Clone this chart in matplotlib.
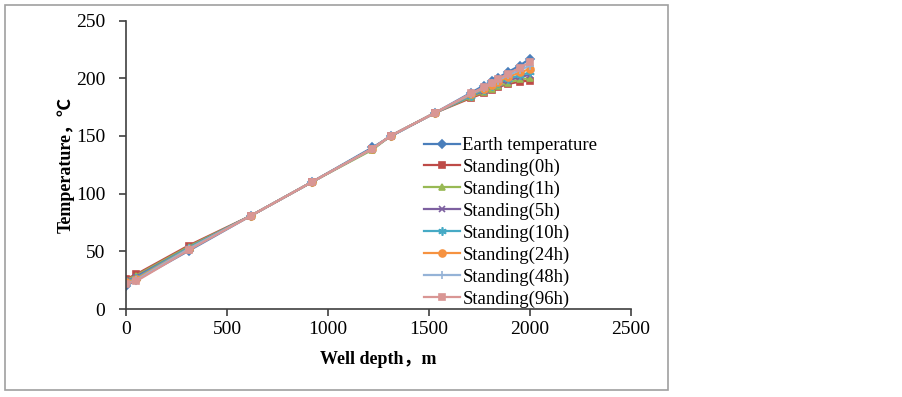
import matplotlib
matplotlib.use("Agg")
import matplotlib.pyplot as plt
from matplotlib.patches import Rectangle

depth = [0, 50, 310, 620, 920, 1220, 1310, 1530, 1710, 1770, 1810, 1840, 1890, 1950, 2000]

earth = [20, 25, 50.4, 81, 110, 140, 149.5, 170, 187.6, 193.5, 197.4, 200.3, 205.2, 211, 217]
h0 = [26, 30, 55, 81, 110, 139, 150, 170, 183, 187, 190, 192, 195, 197, 198]
h1 = [25, 29, 54, 81, 110, 138, 150, 170, 184, 188, 191, 193, 196, 199, 200]
h5 = [24, 28, 53, 81, 110, 139, 150, 170, 185, 189, 193, 195, 198, 201, 203]
h10 = [24, 27, 53, 81, 110, 139, 150, 170, 185, 190, 193.5, 196, 199.5, 202.5, 205]
h24 = [23, 26, 52, 81, 110, 139, 150, 170, 186, 191, 194.5, 197, 201, 205, 208]
h48 = [22, 25, 52, 81, 110, 139, 150, 170, 186.5, 191.5, 195.5, 198, 202.5, 207, 211]
h96 = [22, 24, 51, 81, 110, 139, 150, 170, 187, 192, 196, 199, 204, 209, 214]

labels = ["Earth temperature", "Standing(0h)", "Standing(1h)", "Standing(5h)",
          "Standing(10h)", "Standing(24h)", "Standing(48h)", "Standing(96h)"]
series = [earth, h0, h1, h5, h10, h24, h48, h96]
colors = ["#4A7EBB", "#BE4B48", "#98B954", "#7D60A0", "#46AAC5", "#F69240", "#95B3D7", "#D99694"]
markers = ["D", "s", "^", "x", (6, 2, 0), "o", "+", "s"]
msizes = [4, 5, 5, 5, 6, 5, 6, 5]

xticks = [0, 500, 1000, 1500, 2000, 2500]
yticks = [0, 50, 100, 150, 200, 250]

serif = ["Liberation Serif", "Noto Sans CJK SC"]

fig = plt.figure(figsize=(9.03, 3.97), dpi=100)
fig.patches.append(Rectangle((5/903, 1-390/397), 663/903, 385/397, transform=fig.transFigure,
                             fill=False, edgecolor="#A0A0A0", linewidth=1.2))
ax = fig.add_axes([126/903, 1-309/397, 505/903, (309-20.5)/397])

for s, lab, c, m, ms in zip(series, labels, colors, markers, msizes):
    ax.plot(depth, s, color=c, marker=m, markersize=ms, linewidth=1.6, label=lab,
            markeredgecolor=c, markerfacecolor=c, markeredgewidth=1.2)

ax.set_xlim(0, 2500)
ax.set_ylim(0, 250)
ax.set_xticks(xticks)
ax.set_yticks(yticks)
for sp in ["top", "right"]:
    ax.spines[sp].set_visible(False)
for sp in ["left", "bottom"]:
    ax.spines[sp].set_color("#404040")
    ax.spines[sp].set_linewidth(1.2)
ax.tick_params(direction="out", length=5, width=1.2, color="#404040", labelsize=14)
ax.tick_params(axis="x", pad=4)
ax.tick_params(axis="y", pad=10)
for t in ax.get_xticklabels() + ax.get_yticklabels():
    t.set_family(serif)

ax.set_xlabel("Well depth，m", family=serif, fontweight="bold", fontsize=13, labelpad=9)
ax.set_ylabel("Temperature，℃", family=serif, fontweight="bold", fontsize=13, labelpad=1)

leg = fig.legend(loc="upper left", bbox_to_anchor=(424/903, 1-137/397), frameon=False,
                 prop={"family": serif, "size": 13.5}, handlelength=1.9, handletextpad=0.15,
                 labelspacing=0.25, borderpad=0, borderaxespad=0)

fig.savefig("out.png", dpi=100)
